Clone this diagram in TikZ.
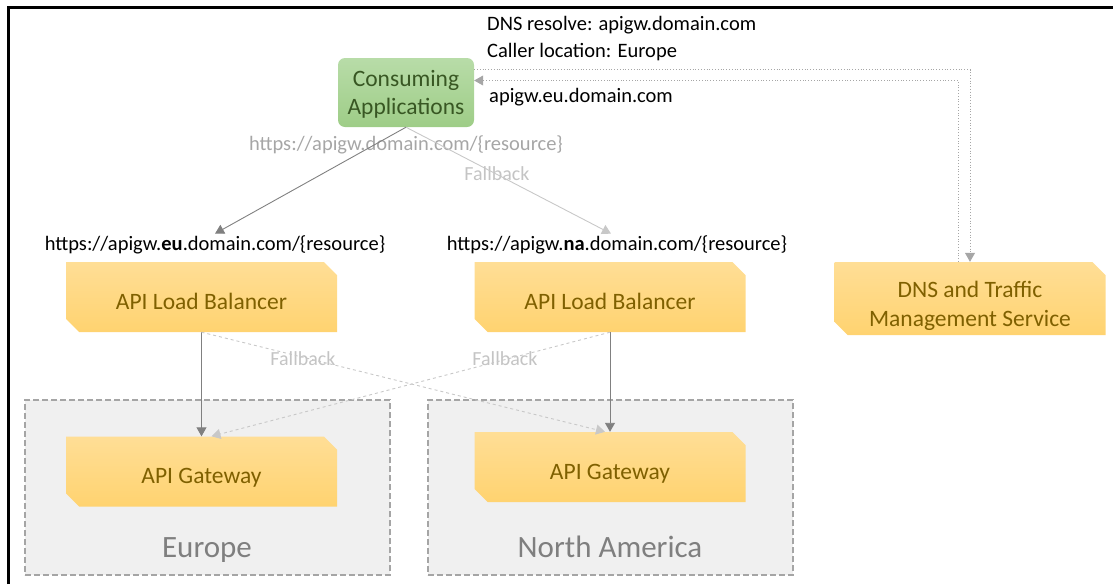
\documentclass[tikz,border=0pt]{standalone}
\usepackage{fontspec}
\setmainfont{Carlito}
\usepackage{tikz}
\usetikzlibrary{arrows.meta,positioning,shapes.misc}
\definecolor{ambertop}{RGB}{255,222,150}
\definecolor{amberbot}{RGB}{255,211,112}
\definecolor{ambertext}{RGB}{127,96,0}
\definecolor{sagetop}{RGB}{184,220,168}
\definecolor{sagebot}{RGB}{158,205,135}
\definecolor{sagetext}{RGB}{56,87,35}
\definecolor{regionfill}{RGB}{240,240,240}
\definecolor{regionline}{RGB}{165,165,165}
\definecolor{regiontext}{RGB}{127,127,127}
\definecolor{wire}{RGB}{128,128,128}
\definecolor{fallwire}{RGB}{200,200,200}
\definecolor{hint}{RGB}{166,166,166}
\definecolor{faded}{RGB}{196,196,196}
\newcommand{\twolines}[3]{\raisebox{#1}[\height][\depth]{\begin{tabular}{@{}c@{}}#2\\#3\end{tabular}}}
\tikzset{
  servicebox/.style={chamfered rectangle, chamfered rectangle corners={north east,south west},
    chamfered rectangle xsep=10pt, top color=ambertop, bottom color=amberbot, draw=none,
    minimum width=271pt, minimum height=70pt, inner sep=0pt, align=center, text=ambertext,
    text height=24pt, text depth=0pt, font=\fontsize{23.5}{29}\selectfont},
  appbox/.style={rectangle, rounded corners=7pt, top color=sagetop, bottom color=sagebot, draw=none,
    minimum width=136pt, minimum height=69pt, inner sep=0pt, text=sagetext,
    font=\fontsize{23.5}{28}\selectfont},
  regionbox/.style={draw=regionline, fill=regionfill, line width=1.8pt, dash pattern=on 6pt off 3pt,
    minimum width=365pt, minimum height=175pt, inner sep=0pt},
  regionlabel/.style={text=regiontext, font=\fontsize{31}{36}\selectfont, inner sep=0pt, anchor=base},
  notelabel/.style={text=black, font=\fontsize{20.5}{27}\selectfont, inner sep=0pt},
  urllabel/.style={notelabel, inner sep=2pt},
  hintlabel/.style={text=hint, font=\fontsize{20.5}{25}\selectfont, inner sep=0pt},
  fadelabel/.style={text=faded, font=\fontsize{20}{24}\selectfont, inner sep=0pt},
  flow/.style={-{Triangle[length=9pt,width=10pt]}, draw=wire, line width=0.9pt},
  fallflow/.style={-{Triangle[length=9pt,width=10pt]}, draw=fallwire, line width=0.9pt},
  dnsflow/.style={-{Triangle[length=9pt,width=10pt]}, draw=wire!70, line width=0.8pt, dotted}
}
\begin{document}
\begin{tikzpicture}[x=1pt, y=-1pt]
\useasboundingbox (0,0) rectangle (1113,584);
\draw[line width=3pt] (8,584) -- (8,7) -- (1113,7);

% regions
\node[regionbox] (regEU) at (207.5,487.5) {};
\node[regionbox] (regNA) at (610.5,487.5) {};
\node[regionlabel] (nameEU) at (207,557) {Europe};
\node[regionlabel] (nameNA) at (610,557) {North America};

% services
\node[appbox] (app) at (406,92.5) {\twolines{-2pt}{Consuming}{Applications}};
\node[servicebox] (lbEU) at (201.5,297) {API Load Balancer};
\node[servicebox] (lbNA) at (610,297) {API Load Balancer};
\node[servicebox] (gwEU) at (201.5,471.5) {API Gateway};
\node[servicebox] (gwNA) at (610,467) {API Gateway};
\node[servicebox, minimum height=73pt, text height={}, text depth={}] (dns) at (970,298.5)
  {\twolines{-8pt}{DNS and Traffic}{Management Service}};

% labels
\node[urllabel] (urlEU) at (215,245) {https://apigw.\textbf{eu}.domain.com/\{resource\}};
\node[urllabel] (urlNA) at (617,245) {https://apigw.\textbf{na}.domain.com/\{resource\}};
\node[hintlabel] (urlMain) at (406,145) {https://apigw.domain.com/\{resource\}};
\node[fadelabel] (fbTop) at (497,174) {Fallback};
\node[fadelabel] (fbEU) at (303,359) {Fallback};
\node[fadelabel] (fbNA) at (505,359) {Fallback};
\node[notelabel, anchor=north west, align=left] (dnsNote) at (487,16) {DNS resolve: apigw.domain.com\\Caller location: Europe};
\node[notelabel, anchor=west] (dnsReply) at (489,97) {apigw.eu.domain.com};

% connectors
\draw[flow] (app.south) -- (urlEU.north);
\draw[fallflow] (app.south) -- ([xshift=-6pt]urlNA.north);
\draw[flow] (lbEU.south) -- (gwEU.north);
\draw[flow] (lbNA.south) -- (gwNA.north);
\draw[fallflow, dashed] (lbEU.south) -- ([xshift=-5pt]gwNA.north);
\draw[fallflow, dashed] (lbNA.south) -- ([xshift=10pt]gwEU.north);
\draw[dnsflow] ([yshift=23pt]app.east) -| (dns.north);
\draw[dnsflow] ([xshift=-12pt]dns.north) |- ([yshift=12pt]app.east);
\end{tikzpicture}
\end{document}
